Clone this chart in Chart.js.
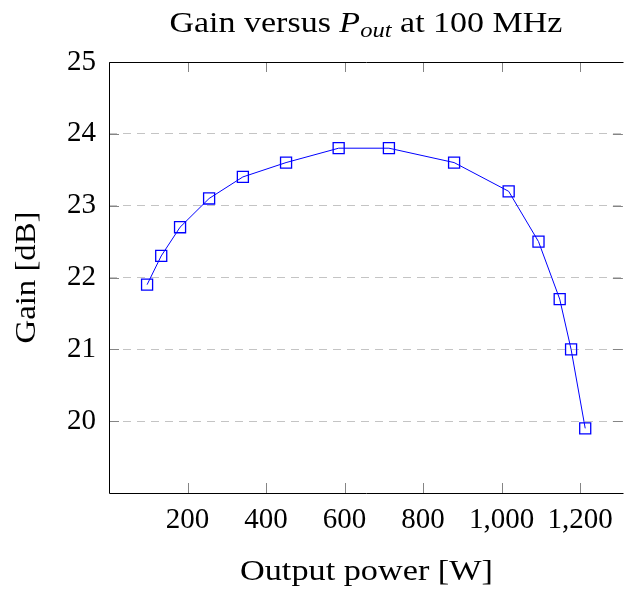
<!DOCTYPE html>
<html>
<head>
<meta charset="utf-8">
<script src="https://cdn.jsdelivr.net/npm/chart.js@4/dist/chart.umd.min.js"></script>
<style>
html,body{margin:0;padding:0;background:#fff;overflow:hidden;}
canvas{display:block;}
</style>
</head>
<body>
<canvas id="c" width="632" height="590"></canvas>
<script>
// Data
const outputPower = [97, 133, 181, 255, 341, 451, 585, 713, 879, 1018, 1094, 1148, 1177, 1213];
const gainDb      = [21.9, 22.3, 22.7, 23.1, 23.4, 23.6, 23.8, 23.8, 23.6, 23.2, 22.5, 21.7, 21.0, 19.9];
const xTicks = [200, 400, 600, 800, 1000, 1200];
const yTicks = [20, 21, 22, 23, 24, 25];
const titleParts = ["Gain versus ", "P", "out", " at 100 MHz"];
const xTitle = "Output power [W]";
const yTitle = "Gain [dB]";

const FONT = "'Liberation Serif', 'Times New Roman', serif";

const points = outputPower.map((x, i) => ({x: x, y: gainDb[i]}));

// draw a run of text pieces, horizontally stretched to a target width (Computer Modern is wider than Times)
function drawRun(ctx, parts, cx, by, target) {
  let total = 0;
  const ws = parts.map(p => { ctx.font = p.font; const w = ctx.measureText(p.text).width; total += w; return w; });
  const sx = target / total;
  ctx.save();
  ctx.translate(cx - target / 2, by);
  ctx.scale(sx, 1);
  let x = 0;
  parts.forEach((p, i) => {
    ctx.font = p.font;
    ctx.fillText(p.text, x, p.dy || 0);
    x += ws[i];
  });
  ctx.restore();
}

const framePlugin = {
  id: 'frame',
  afterDraw(chart) {
    const ctx = chart.ctx;
    const a = chart.chartArea;
    const xs = chart.scales.x, ys = chart.scales.y;
    ctx.save();
    // inward ticks
    ctx.strokeStyle = '#858585';
    ctx.lineWidth = 1;
    const tl = 10;
    ctx.beginPath();
    xTicks.forEach(v => {
      const px = Math.round(xs.getPixelForValue(v)) + 0.5;
      ctx.moveTo(px, a.bottom); ctx.lineTo(px, a.bottom - tl);
      ctx.moveTo(px, a.top); ctx.lineTo(px, a.top + tl);
    });
    yTicks.forEach(v => {
      const py = Math.round(ys.getPixelForValue(v)) + 0.5;
      ctx.moveTo(a.left, py); ctx.lineTo(a.left + tl, py);
      ctx.moveTo(a.right, py); ctx.lineTo(a.right - tl, py);
    });
    ctx.stroke();
    // axis lines (right edge of the box falls outside the picture)
    ctx.strokeStyle = '#000';
    ctx.beginPath();
    const L = Math.round(a.left) + 0.5, T = Math.round(a.top) + 0.5, B = Math.round(a.bottom) + 0.5, R = Math.round(a.right) + 0.5;
    ctx.moveTo(R, T); ctx.lineTo(L, T); ctx.lineTo(L, B); ctx.lineTo(R, B);
    ctx.stroke();

    ctx.fillStyle = '#000';
    ctx.textBaseline = 'alphabetic';
    ctx.textAlign = 'left';
    const fs = 29;
    const fN = fs + 'px ' + FONT;
    const fI = 'italic ' + fs + 'px ' + FONT;
    const fS = 'italic ' + Math.round(fs * 0.72) + 'px ' + FONT;
    const cx = (a.left + a.right) / 2;
    // title
    drawRun(ctx, [
      {text: titleParts[0], font: fN},
      {text: titleParts[1], font: fI},
      {text: titleParts[2], font: fS, dy: 5},
      {text: titleParts[3], font: fN}
    ], cx, 32, 393);
    // x axis title
    drawRun(ctx, [{text: xTitle, font: fN}], 366.5, 580, 253);
    // y axis title
    ctx.save();
    ctx.translate(35, (a.top + a.bottom) / 2);
    ctx.rotate(-Math.PI / 2);
    drawRun(ctx, [{text: yTitle, font: fN}], 0, 0, 132);
    ctx.restore();
    ctx.restore();
  }
};

new Chart(document.getElementById('c'), {
  type: 'line',
  data: {
    datasets: [{
      data: points,
      borderColor: '#0000ff',
      backgroundColor: 'rgba(255,255,255,0)',
      borderWidth: 1,
      pointStyle: 'rect',
      pointRadius: 7.8,
      pointBorderColor: '#0000ff',
      pointBackgroundColor: 'rgba(255,255,255,0)',
      pointBorderWidth: 1.3,
      tension: 0,
      fill: false
    }]
  },
  options: {
    responsive: false,
    animation: false,
    devicePixelRatio: 1,
    layout: { padding: { top: 62, right: 5, bottom: 0, left: 0 } },
    plugins: { legend: { display: false }, tooltip: { enabled: false }, title: { display: false } },
    scales: {
      x: {
        type: 'linear',
        min: 0,
        max: 1309,
        afterBuildTicks: s => { s.ticks = xTicks.map(v => ({value: v})); },
        afterFit: s => { s.height = 97; },
        grid: { display: false, drawTicks: false },
        border: { display: false },
        ticks: {
          padding: 10,
          color: '#000',
          font: { family: FONT, size: 29 },
          maxRotation: 0,
          autoSkip: false,
          callback: v => v.toLocaleString('en-US')
        }
      },
      y: {
        type: 'linear',
        min: 19,
        max: 25,
        afterBuildTicks: s => { s.ticks = yTicks.map(v => ({value: v})); },
        afterFit: s => { s.width = 109; },
        grid: {
          display: true,
          drawTicks: false,
          color: c => (c.tick && (c.tick.value === 25)) ? 'rgba(0,0,0,0)' : '#c4c4c4',
          lineWidth: 1
        },
        border: { display: false, dash: [8, 6] },
        ticks: {
          padding: 13,
          color: '#000',
          font: { family: FONT, size: 29 },
          autoSkip: false
        }
      }
    }
  },
  plugins: [framePlugin]
});
</script>
</body>
</html>
